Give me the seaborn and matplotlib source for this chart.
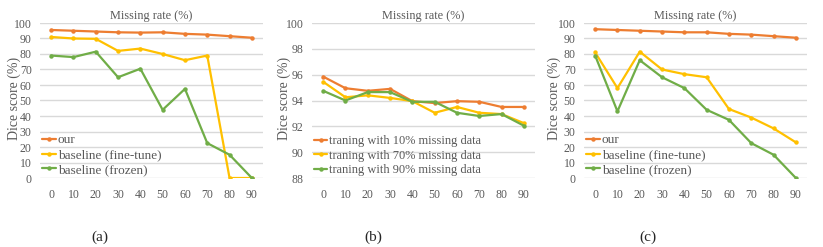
import pandas as pd
import matplotlib.pyplot as plt
import seaborn as sns

# missing rate on the x axis (shared by all panels)
missing_rate = [0, 10, 20, 30, 40, 50, 60, 70, 80, 90]

# panel (a)
a_our = [95.5, 95.0, 94.5, 94.0, 93.8, 94.0, 93.0, 92.5, 91.5, 90.5]
a_finetune = [91.0, 90.0, 89.8, 82.0, 83.5, 80.0, 76.0, 79.0, 0.0, 0.0]
a_frozen = [79.0, 78.0, 81.5, 65.0, 70.5, 44.0, 57.5, 22.5, 15.0, 0.0]

# panel (b)
b_10 = [95.85, 94.95, 94.75, 94.9, 93.95, 93.8, 93.95, 93.9, 93.5, 93.5]
b_70 = [95.45, 94.25, 94.4, 94.2, 93.95, 93.05, 93.5, 93.05, 92.95, 92.25]
b_90 = [94.75, 94.0, 94.65, 94.65, 93.9, 93.9, 93.05, 92.8, 92.95, 92.05]

# panel (c)
c_our = [96.0, 95.5, 95.0, 94.5, 94.0, 94.0, 93.0, 92.5, 91.5, 90.5]
c_finetune = [81.0, 58.0, 81.5, 70.0, 67.0, 65.0, 44.5, 39.0, 32.0, 23.0]
c_frozen = [79.0, 43.0, 76.0, 65.0, 58.0, 44.0, 37.5, 22.5, 15.0, 0.0]

labels_ac = ["our", "baseline (fine-tune)", "baseline (frozen)"]
labels_b = ["traning with 10% missing data", "traning with 70% missing data",
            "traning with 90% missing data"]
colors = ["#ED7D31", "#FFC000", "#70AD47"]


def to_long(series, names):
    rows = []
    for vals, name in zip(series, names):
        for x, v in zip(missing_rate, vals):
            rows.append({"rate": x, "dice": v, "method": name})
    return pd.DataFrame(rows)


sns.set_style("white")
plt.rcParams["font.family"] = ["Liberation Serif", "DejaVu Serif"]
text_col = "#595959"

fig = plt.figure(figsize=(8.23, 2.47), dpi=100)
W, H = 823, 247


def panel(left, width, df, names, ylim, yticks, tag, tag_x, ylab_x, leg_size):
    ax = fig.add_axes([left / W, 1 - 178 / H, width / W, 155 / H])
    sns.lineplot(data=df, x="rate", y="dice", hue="method", hue_order=names,
                 palette=colors, marker="o", markersize=3.2, markeredgewidth=0,
                 linewidth=1.6, ax=ax)
    ax.set_xlim(-5, 95)
    ax.set_ylim(*ylim)
    ax.set_xticks(missing_rate)
    ax.set_yticks(yticks)
    ax.tick_params(axis="both", length=0, labelsize=8.5, colors=text_col, pad=6)
    ax.tick_params(axis="x", pad=8)
    ax.grid(axis="y", color="#D9D9D9", linewidth=1)
    ax.set_axisbelow(True)
    for s in ax.spines.values():
        s.set_visible(False)
    ax.set_xlabel("")
    ax.set_ylabel("")
    fig.text(ylab_x / W, 1 - 98 / H, "Dice score (%)", rotation=90,
             ha="center", va="center", fontsize=10, color=text_col)
    ax.set_title("Missing rate (%)", fontsize=8.8, color=text_col, pad=3)
    leg = ax.legend(loc="lower left", frameon=False, fontsize=leg_size,
                    handlelength=1.1, handletextpad=0.1, borderaxespad=0.0,
                    borderpad=0.15, labelspacing=0.2,
                    bbox_to_anchor=(0.0, 0.0))
    for t in leg.get_texts():
        t.set_color(text_col)
    fig.text(tag_x / W, 1 - 237 / H, tag, ha="center", va="center", fontsize=11)
    return ax


panel(40, 223, to_long([a_our, a_finetune, a_frozen], labels_ac), labels_ac,
      (0, 100), range(0, 101, 10), "(a)", 100, 14, 9.5)
panel(312, 223, to_long([b_10, b_70, b_90], labels_b), labels_b,
      (88, 100), range(88, 101, 2), "(b)", 373, 284, 8.9)
panel(584, 223, to_long([c_our, c_finetune, c_frozen], labels_ac), labels_ac,
      (0, 100), range(0, 101, 10), "(c)", 648, 554, 9.5)

fig.savefig("out.png", dpi=100)
